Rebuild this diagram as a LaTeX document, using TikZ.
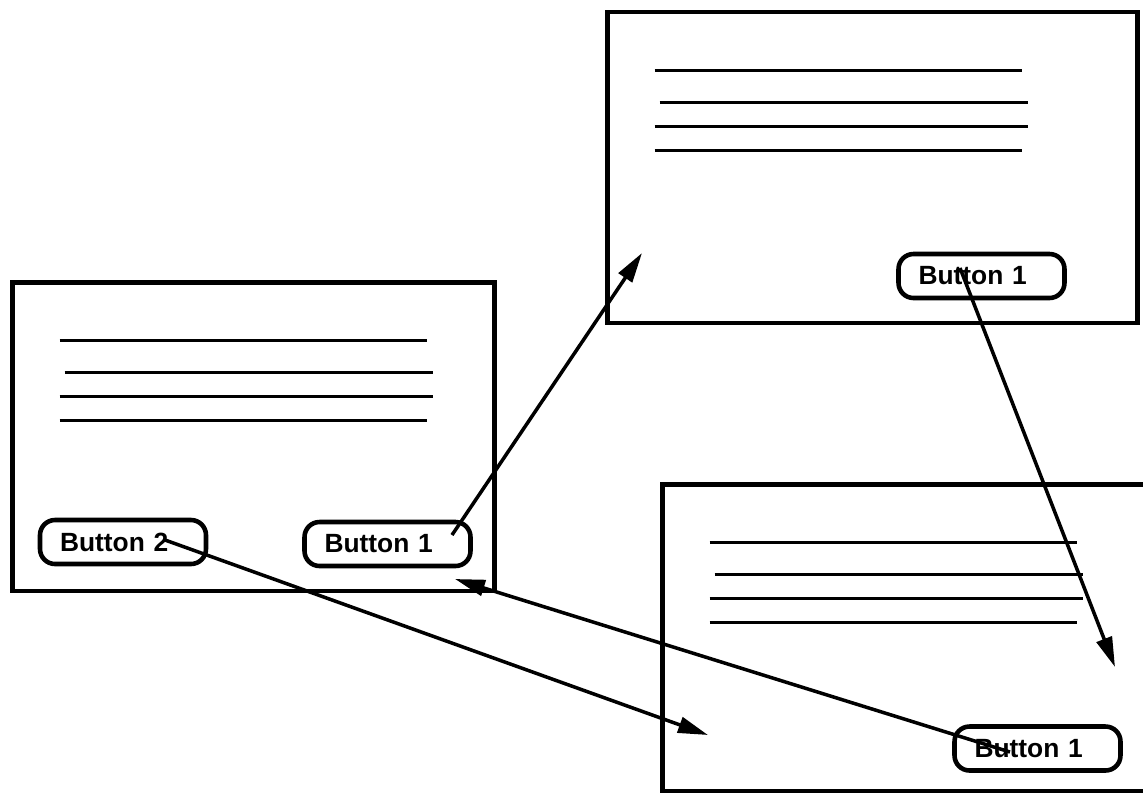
\documentclass[tikz,border=0pt]{standalone}
\usepackage{fontspec}
\setmainfont{Liberation Sans}
\usepackage{tikz}
\usetikzlibrary{arrows.meta}
\usetikzlibrary{calc}

\tikzset{
  window/.style={draw,line width=2.8pt,inner sep=0pt},
  button/.style={draw,line width=2.6pt,rounded corners=0.3cm,
    minimum height=0.88cm,text width=2.52cm,inner xsep=0.4cm,align=left,
    font=\fontsize{15}{18}\selectfont\bfseries},
  jump/.style={line width=2pt,-{Triangle[length=0.6cm,width=0.32cm]}}
}

\begin{document}
\begin{tikzpicture}[x=0.02cm,y=-0.02cm]
\useasboundingbox (0,0) rectangle (1143,796);
\clip (0,0) rectangle (1143,796);
  \node[window,minimum width=9.66cm,minimum height=6.18cm] (wl) at (253.5,436.5) {};
  \node[window,minimum width=10.62cm,minimum height=6.22cm] (wt) at (872.5,167.5) {};
  \node[window,minimum width=10.76cm,minimum height=6.14cm] (wb) at (931,637.5) {};
  \foreach \w in {wl,wt,wb}
    \foreach \a/\b/\y in {50/417/61,55/423/93,50/423/117,50/417/141}
      \draw[line width=1.5pt] ($(\w.north west)+(\a,\y)$) -- ($(\w.north west)+(\b,\y)$);
  \node[button] (btwo) at (123,542) {Button 2};
  \node[button] (bone) at (387.5,544) {Button 1};
  \node[button] (btop) at (981.5,276) {Button 1};
  \node[button] (bbot) at (1037.5,748.5) {Button 1};
  \coordinate (pt) at (642,253);
  \coordinate (pr) at (1115,667);
  \coordinate (pb) at (708,735);
  \coordinate (pl) at (455,579);
  \draw[jump] ([shift={(64.5,-9)}]bone.center) -- (pt);
  \draw[jump] ([shift={(-21.5,-8)}]btop.center) -- (pr);
  \draw[jump] ([shift={(42,-2)}]btwo.center) -- (pb);
  \draw[jump] ([shift={(-27.5,3.5)}]bbot.center) -- (pl);
\end{tikzpicture}
\end{document}
